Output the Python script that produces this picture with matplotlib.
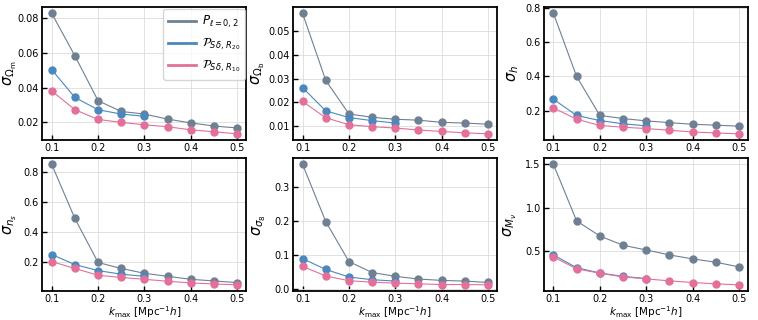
import numpy as np
import matplotlib
matplotlib.use("Agg")
import matplotlib.pyplot as plt
from matplotlib.ticker import MultipleLocator
from matplotlib.lines import Line2D

# k_max values
kmax = [0.1, 0.15, 0.2, 0.25, 0.3, 0.35, 0.4, 0.45, 0.5]
kmax_r20 = [0.1, 0.15, 0.2, 0.25, 0.3]

# sigma for P_{l=0,2}
pl_om = [0.0829, 0.0584, 0.0325, 0.0263, 0.0248, 0.0219, 0.0197, 0.0179, 0.0168]
pl_ob = [0.0572, 0.0292, 0.0152, 0.0138, 0.0130, 0.0126, 0.0117, 0.0114, 0.0109]
pl_h = [0.771, 0.400, 0.171, 0.153, 0.139, 0.129, 0.119, 0.114, 0.108]
pl_ns = [0.849, 0.489, 0.196, 0.156, 0.124, 0.104, 0.084, 0.073, 0.062]
pl_s8 = [0.365, 0.198, 0.081, 0.049, 0.038, 0.030, 0.026, 0.024, 0.020]
pl_mnu = [1.50, 0.849, 0.676, 0.569, 0.515, 0.458, 0.412, 0.374, 0.320]

# sigma for P_{S delta, R20}
r20_om = [0.0504, 0.0344, 0.0273, 0.0248, 0.0235]
r20_ob = [0.0262, 0.0165, 0.0137, 0.0124, 0.0114]
r20_h = [0.266, 0.171, 0.141, 0.122, 0.110]
r20_ns = [0.249, 0.182, 0.142, 0.118, 0.104]
r20_s8 = [0.0896, 0.058, 0.036, 0.028, 0.024]
r20_mnu = [0.458, 0.310, 0.250, 0.210, 0.186]

# sigma for P_{S delta, R10}
r10_om = [0.0382, 0.0273, 0.0217, 0.0200, 0.0186, 0.0175, 0.0157, 0.0146, 0.0134]
r10_ob = [0.0204, 0.0136, 0.0107, 0.0099, 0.0093, 0.0085, 0.0079, 0.0073, 0.0069]
r10_h = [0.215, 0.149, 0.112, 0.102, 0.094, 0.084, 0.074, 0.068, 0.063]
r10_ns = [0.202, 0.156, 0.111, 0.096, 0.084, 0.071, 0.060, 0.053, 0.047]
r10_s8 = [0.067, 0.039, 0.025, 0.021, 0.018, 0.016, 0.014, 0.014, 0.013]
r10_mnu = [0.435, 0.297, 0.247, 0.205, 0.182, 0.159, 0.140, 0.125, 0.113]

ylabels = [r"$\sigma_{\Omega_{\rm m}}$", r"$\sigma_{\Omega_{\rm b}}$", r"$\sigma_{h}$",
           r"$\sigma_{n_s}$", r"$\sigma_{\sigma_8}$", r"$\sigma_{M_\nu}$"]
ysteps = [0.02, 0.01, 0.2, 0.2, 0.1, 0.5]
labelx = [-0.117, -0.13, -0.115, -0.116, -0.126, -0.125]
pl_all = [pl_om, pl_ob, pl_h, pl_ns, pl_s8, pl_mnu]
r20_all = [r20_om, r20_ob, r20_h, r20_ns, r20_s8, r20_mnu]
r10_all = [r10_om, r10_ob, r10_h, r10_ns, r10_s8, r10_mnu]

c_pl = "#6f8093"
c_r20 = "#4a88bd"
c_r10 = "#e3709a"
names = [r"$P_{\ell=0,2}$", r"$\mathcal{P}_{S\delta,\,R_{20}}$",
         r"$\mathcal{P}_{S\delta,\,R_{10}}$"]

fig, axes = plt.subplots(2, 3, figsize=(7.58, 3.2), dpi=100)
fig.subplots_adjust(left=0.056, right=0.987, top=0.977, bottom=0.091,
                    wspace=0.23, hspace=0.14)

for i, ax in enumerate(axes.flat):
    ax.plot(kmax, pl_all[i], "-o", color=c_pl, lw=0.8, ms=5)
    ax.plot(kmax_r20, r20_all[i], "-o", color=c_r20, lw=0.8, ms=5)
    ax.plot(kmax, r10_all[i], "-o", color=c_r10, lw=0.8, ms=5)
    ax.set_ylabel(ylabels[i], fontsize=10.5)
    ax.yaxis.set_label_coords(labelx[i], 0.5)
    ax.set_xticks([0.1, 0.2, 0.3, 0.4, 0.5])
    ax.yaxis.set_major_locator(MultipleLocator(ysteps[i]))
    ax.tick_params(direction="in", labelsize=7, length=3.5, width=1, pad=2.5)
    ax.grid(True, color="#dcdcdc", lw=0.6)
    for s in ax.spines.values():
        s.set_linewidth(1.3)
    if i >= 3:
        ax.set_xlabel(r"$k_{\rm max}$ [Mpc$^{-1}h$]", fontsize=7.5, labelpad=0)

handles = [Line2D([], [], color=c, lw=2) for c in [c_pl, c_r20, c_r10]]
axes[0, 0].legend(handles, names, loc="upper right", fontsize=8.5,
                  handlelength=2.3, handletextpad=0.5, borderpad=0.45,
                  labelspacing=0.55, borderaxespad=0.1)

fig.savefig("out.png", dpi=100)
